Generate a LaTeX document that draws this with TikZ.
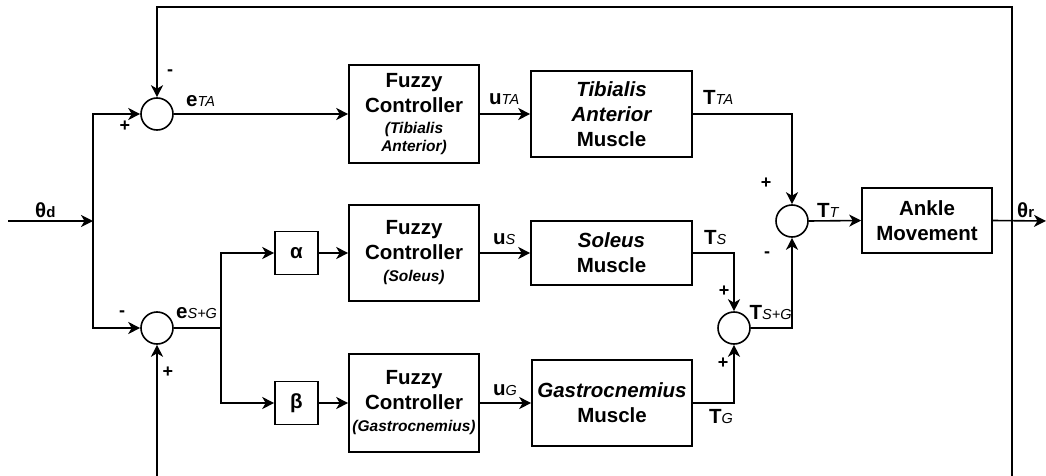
\documentclass[tikz,border=0pt]{standalone}
\usepackage{fontspec}
\setmainfont{Liberation Sans}
\usetikzlibrary{arrows.meta}
\newcommand\subx[1]{{\fontsize{14.5}{15}\selectfont\mdseries\itshape #1}}
\newcommand\subu[1]{{\fontsize{15}{15}\selectfont #1}}
\newcommand\smallit[1]{{\fontsize{15.5}{18}\selectfont\itshape #1}}
\begin{document}
\begin{tikzpicture}[x=1pt,y=-1pt,
  every node/.style={font=\bfseries\fontsize{20.5}{25}\selectfont},
  blk/.style={draw, line width=1.6pt, align=center, inner sep=0pt},
  sumj/.style={circle, draw, line width=1.6pt, minimum size=32pt, inner sep=0pt},
  wire/.style={line width=1.6pt},
  conn/.style={wire, -{Stealth[length=12pt,width=12pt,inset=3.5pt]}},
  lbl/.style={inner sep=0pt, anchor=base west},
  sgn/.style={inner sep=0pt, font=\bfseries\fontsize{18}{18}\selectfont}]
\useasboundingbox (0,0) rectangle (1046,476);
\clip (0,0) rectangle (1046,476);

% summing junctions
\node[sumj] (s1) at (157,114) {};
\node[sumj] (s2) at (157,328) {};
\node[sumj] (s3) at (792,221) {};
\node[sumj] (s4) at (734,328) {};

% blocks
\node[blk, minimum width=130pt, minimum height=98pt] (fc1) at (414,114)
  {Fuzzy\\Controller\\[-4pt]\smallit{(Tibialis}\\[-7pt]\smallit{Anterior)}};
\node[blk, minimum width=161pt, minimum height=86pt] (m1) at (611.5,114)
  {{\itshape Tibialis}\\{\itshape Anterior}\\Muscle};
\node[blk, minimum width=43pt, minimum height=43pt] (al) at (296.5,253) {α};
\node[blk, minimum width=43pt, minimum height=43pt] (be) at (296.5,403) {β};
\node[blk, minimum width=130pt, minimum height=96pt] (fc2) at (414,253)
  {Fuzzy\\Controller\\[-3pt]\smallit{(Soleus)}};
\node[blk, minimum width=161pt, minimum height=64pt] (m2) at (611.5,253)
  {{\itshape Soleus}\\Muscle};
\node[blk, minimum width=130pt, minimum height=98pt] (fc3) at (414,403)
  {Fuzzy\\Controller\\[-3pt]\smallit{(Gastrocnemius)}};
\node[blk, minimum width=160pt, minimum height=86pt] (m3) at (612,403)
  {{\itshape Gastrocnemius}\\Muscle};
\node[blk, minimum width=130pt, minimum height=65pt] (ank) at (927,220.5)
  {Ankle\\Movement};

% junction points
\coordinate (in) at (8,221);
\coordinate (jd) at (93,221);
\coordinate (jb) at (221,328);
\coordinate (jr) at (1012,221);
\coordinate (jt) at (1012,7);
\coordinate (jbt) at (1012,490);
\coordinate (out) at (1046,221);

% connectors
\draw[conn] (in) -- (jd);
\draw[conn] (jd) |- (s1.west);
\draw[conn] (jd) |- (s2.west);
\draw[conn] (s1.east) -- (fc1.west);
\draw[conn] (fc1.east) -- (m1.west);
\draw[conn] (m1.east) -| (s3.north);
\draw[wire] (s2.east) -- (jb);
\draw[conn] (jb) |- (al.west);
\draw[conn] (jb) |- (be.west);
\draw[conn] (al.east) -- (fc2.west);
\draw[conn] (fc2.east) -- (m2.west);
\draw[conn] (m2.east) -| (s4.north);
\draw[conn] (be.east) -- (fc3.west);
\draw[conn] (fc3.east) -- (m3.west);
\draw[conn] (m3.east) -| (s4.south);
\draw[conn] (s4.east) -| (s3.south);
\draw[conn] (s3.east) -- (ank.west);
\draw[conn] (ank.east) -- (out);
\draw[conn] (jr) -- (jt) -| (s1.north);
\draw[conn] (jr) -- (jbt) -| (s2.south);

% signal labels
\node[lbl] (ltd) at (35,217) {θ\subu{d}};
\node[lbl] (leta) at (186,107) {e\subx{TA}};
\node[lbl] (lesg) at (176,318) {e\subx{S+G}};
\node[lbl] (luta) at (489,105) {u\subx{TA}};
\node[lbl] (lus) at (493,244) {u\subx{S}};
\node[lbl] (lug) at (493,395) {u\subx{G}};
\node[lbl] (ltta) at (703,105) {T\subx{TA}};
\node[lbl] (lts) at (704,244) {T\subx{S}};
\node[lbl] (ltg) at (709,423) {T\subx{G}};
\node[lbl] (ltsg) at (749.5,319) {T\subx{S+G}};
\node[lbl] (ltt) at (817,217) {T\subx{T}};
\node[lbl] (ltr) at (1017,217) {θ\subu{r}};

% signs
\node[sgn] (p1) at (125,126) {+};
\node[sgn] (m1s) at (170,73) {-};
\node[sgn] (m2s) at (122,314) {-};
\node[sgn] (p2) at (168,372) {+};
\node[sgn] (p3) at (766,183) {+};
\node[sgn] (m3s) at (767,255) {-};
\node[sgn] (p4) at (724,291) {+};
\node[sgn] (p5) at (723,363) {+};
\end{tikzpicture}
\end{document}
